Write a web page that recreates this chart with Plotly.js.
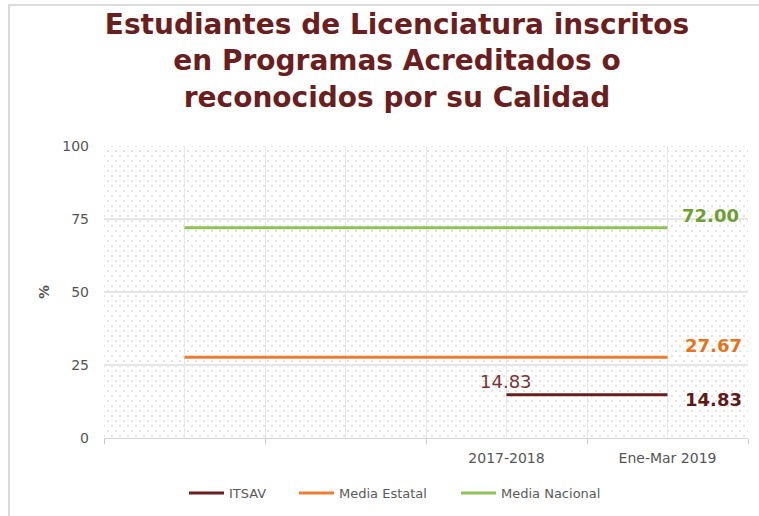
<!DOCTYPE html>
<html>
<head>
<meta charset="utf-8">
<script src="https://cdn.plot.ly/plotly-3.0.1.min.js"></script>
<style>
  html, body { margin: 0; padding: 0; background: #ffffff; }
  #wrap { position: relative; width: 759px; height: 516px; overflow: hidden; }
  #frame { position: absolute; left: 8px; top: 4px; width: 800px; height: 600px;
           border-left: 2px solid #dadada; border-top: 2px solid #dadada; }
  #dots { position: absolute; left: 104px; top: 146px; width: 644px; height: 292px;
          background-image: radial-gradient(circle, #e3e3e3 0.8px, rgba(255,255,255,0) 1.2px),
                            radial-gradient(circle, #e3e3e3 0.8px, rgba(255,255,255,0) 1.2px);
          background-size: 8px 10px; background-position: 0 0, 4px 5px; }
  #chart { position: absolute; left: 0; top: 0; width: 759px; height: 516px; }
</style>
</head>
<body>
<div id="wrap">
  <div id="frame"></div>
  <div id="dots"></div>
  <div id="chart"></div>
</div>
<script>
const categories = ["", "", "2017-2018", "Ene-Mar 2019"];
const itsav = [null, null, 14.83, 14.83];
const mediaEstatal = [27.67, 27.67, 27.67, 27.67];
const mediaNacional = [72.00, 72.00, 72.00, 72.00];
const seriesNames = ["ITSAV", "Media Estatal", "Media Nacional"];

const xIdx = categories.map((c, i) => i);
const lastI = categories.length - 1;

const colItsav = "#6b1e1e";
const colEstatal = "#ed7d31";
const colNacional = "#8fc155";

const traces = [
  { x: xIdx, y: itsav, name: seriesNames[0], mode: "lines", line: { color: colItsav, width: 3 }, legend: "legend" },
  { x: xIdx, y: mediaEstatal, name: seriesNames[1], mode: "lines", line: { color: colEstatal, width: 3 }, legend: "legend2" },
  { x: xIdx, y: mediaNacional, name: seriesNames[2], mode: "lines", line: { color: colNacional, width: 3 }, legend: "legend3" }
];

const firstItsav = itsav.findIndex(v => v !== null);
const annotations = [
  { x: lastI, y: mediaNacional[lastI], text: mediaNacional[lastI].toFixed(2), xanchor: "left", yanchor: "middle",
    xshift: 12, yshift: 12, showarrow: false, font: { family: "DejaVu Sans", size: 18, color: "#6f9e33", weight: "bold" } },
  { x: lastI, y: mediaEstatal[lastI], text: mediaEstatal[lastI].toFixed(2), xanchor: "left", yanchor: "middle",
    xshift: 15, yshift: 12, showarrow: false, font: { family: "DejaVu Sans", size: 18, color: "#e8731e", weight: "bold" } },
  { x: lastI, y: itsav[lastI], text: itsav[lastI].toFixed(2), xanchor: "left", yanchor: "middle",
    xshift: 15, yshift: -5, showarrow: false, font: { family: "DejaVu Sans", size: 18, color: "#5e1a1a", weight: "bold" } },
  { x: firstItsav, y: itsav[firstItsav], text: itsav[firstItsav].toFixed(2), xanchor: "center", yanchor: "middle",
    xshift: -1, yshift: 13, showarrow: false, font: { family: "DejaVu Sans", size: 18, color: "#7a3434" } }
];

function legendAt(px) {
  return {
    orientation: "h", xref: "container", yref: "container", x: px / 759, xanchor: "left",
    y: 1 - 493 / 516, yanchor: "middle",
    font: { family: "DejaVu Sans", size: 13, color: "#595959" },
    bgcolor: "rgba(0,0,0,0)", itemwidth: 35
  };
}

const layout = {
  width: 759, height: 516,
  margin: { l: 104, r: 11, t: 146, b: 78 },
  paper_bgcolor: "rgba(0,0,0,0)",
  plot_bgcolor: "rgba(0,0,0,0)",
  font: { family: "DejaVu Sans", color: "#595959", size: 13 },
  title: {
    text: "Estudiantes de Licenciatura inscritos<br>en Programas Acreditados o<br>reconocidos por su Calidad",
    font: { family: "DejaVu Sans", size: 28, color: "#6b1e1e", weight: "bold" },
    xref: "container", x: 397 / 759, xanchor: "center",
    yref: "container", y: 1 - 34 / 516, yanchor: "top"
  },
  xaxis: {
    range: [-0.5, categories.length - 0.5],
    tickmode: "array", tickvals: xIdx, ticktext: categories,
    showgrid: true, gridcolor: "#e8e8e8", gridwidth: 1,
    ticks: "", showline: true, linecolor: "#d4d4d4", linewidth: 1,
    zeroline: false, fixedrange: true, ticklabelstandoff: 7,
    tickfont: { family: "DejaVu Sans", size: 14, color: "#555555" },
    minor: { tickmode: "linear", tick0: -0.5, dtick: 1, showgrid: true, gridcolor: "#e8e8e8", gridwidth: 1,
             ticks: "outside", ticklen: 5, tickcolor: "#c8c8c8", tickwidth: 1 }
  },
  yaxis: {
    range: [0, 100], tickmode: "linear", tick0: 0, dtick: 25,
    showgrid: true, gridcolor: "#e6e6e6", gridwidth: 1.5,
    zeroline: false, showline: false, ticks: "", ticklabelstandoff: 14,
    tickfont: { family: "DejaVu Sans", size: 14, color: "#555555" },
    title: { text: "%", standoff: 9, font: { family: "DejaVu Sans", size: 14, color: "#555555", weight: "bold" } },
    fixedrange: true
  },
  showlegend: true,
  legend: legendAt(184),
  legend2: legendAt(294),
  legend3: legendAt(456),
  annotations: annotations
};

Plotly.newPlot("chart", traces, layout, { staticPlot: true, displayModeBar: false });
</script>
</body>
</html>
